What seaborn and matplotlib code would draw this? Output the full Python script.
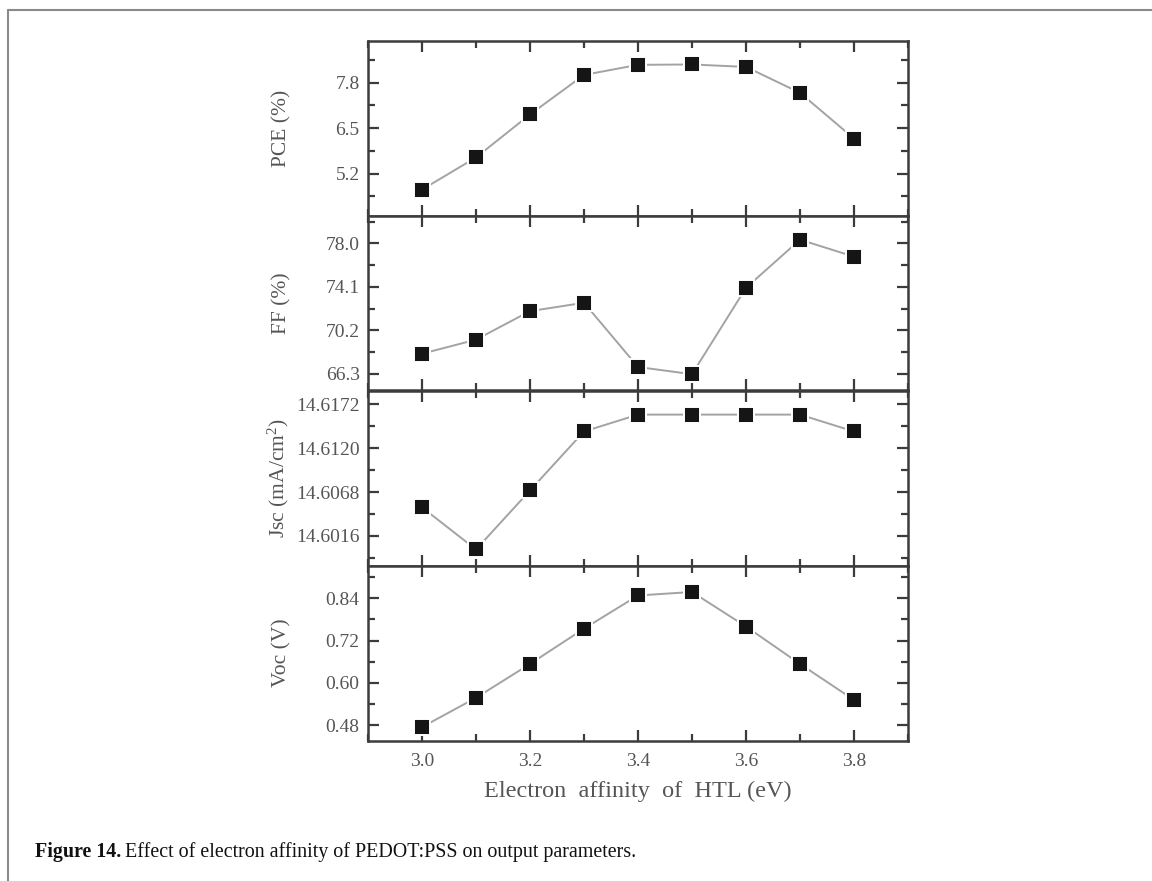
import numpy as np
import pandas as pd
import matplotlib
matplotlib.use("Agg")
import matplotlib.pyplot as plt
from matplotlib.lines import Line2D
from matplotlib.ticker import AutoMinorLocator
import seaborn as sns

# electron affinity of the HTL (eV)
ea = [3.0, 3.1, 3.2, 3.3, 3.4, 3.5, 3.6, 3.7, 3.8]

pce = [4.74, 5.66, 6.89, 8.02, 8.31, 8.32, 8.25, 7.51, 6.20]
ff = [68.1, 69.36, 71.92, 72.67, 66.91, 66.26, 74.01, 78.33, 76.81]
jsc = [14.6050, 14.6000, 14.6070, 14.6140, 14.6160, 14.6160, 14.6160, 14.6160, 14.6140]
voc = [0.475, 0.558, 0.654, 0.754, 0.848, 0.858, 0.760, 0.654, 0.552]

pce_ticks = [5.2, 6.5, 7.8]
ff_ticks = [66.3, 70.2, 74.1, 78.0]
jsc_ticks = [14.6016, 14.6068, 14.6120, 14.6172]
voc_ticks = [0.48, 0.60, 0.72, 0.84]
x_ticks = [3.0, 3.2, 3.4, 3.6, 3.8]

sns.set_theme(style="ticks")
plt.rcParams['font.family'] = ['Liberation Serif', 'DejaVu Serif']
plt.rcParams['mathtext.fontset'] = 'custom'
plt.rcParams['mathtext.rm'] = 'Liberation Serif'
plt.rcParams['mathtext.it'] = 'Liberation Serif:italic'

W, H = 1152, 881
fig = plt.figure(figsize=(W / 100, H / 100), dpi=100)
fig.patch.set_facecolor("white")

spine_col = "#3c3c3c"
text_col = "#555555"

left, right = 368, 908
edges = [40.7, 215.5, 390.5, 565.5, 740.5]

panels = [
    ("PCE (%)", pce, pce_ticks, (4.0, 9.0), "{:.1f}"),
    ("FF (%)", ff, ff_ticks, (64.8, 80.5), "{:.1f}"),
    ("Jsc (mA/cm$^2$)", jsc, jsc_ticks, (14.5981, 14.61886), "{:.4f}"),
    ("Voc (V)", voc, voc_ticks, (0.437, 0.933), "{:.2f}"),
]

axes = []
for i, (label, vals, ticks, ylim, fmt) in enumerate(panels):
    top, bot = edges[i], edges[i + 1]
    rect = [left / W, 1 - bot / H, (right - left) / W, (bot - top) / H]
    ax = fig.add_axes(rect, sharex=axes[0] if axes else None)
    axes.append(ax)
    df = pd.DataFrame({"ea": ea, "val": vals})
    sns.lineplot(data=df, x="ea", y="val", ax=ax, color="#a3a3a3", linewidth=1.4,
                 marker="s", markersize=11.5, markerfacecolor="#151515",
                 markeredgecolor="white", markeredgewidth=1.4)
    ax.set_xlim(2.9, 3.9)
    ax.set_ylim(*ylim)
    ax.set_yticks(ticks)
    ax.set_yticklabels([fmt.format(t) for t in ticks])
    ax.yaxis.set_minor_locator(AutoMinorLocator(2))
    ax.set_xticks(x_ticks)
    ax.xaxis.set_minor_locator(AutoMinorLocator(2))
    ax.tick_params(which="both", direction="in", top=True, right=True,
                   color=spine_col, width=1.6, labelcolor=text_col, labelsize=14)
    ax.tick_params(which="major", length=8)
    ax.tick_params(which="minor", length=5)
    ax.tick_params(axis="y", pad=6)
    ax.tick_params(axis="x", pad=9)
    for sp in ax.spines.values():
        sp.set_color(spine_col)
        sp.set_linewidth(1.8)
    ax.set_ylabel(label, fontsize=15.5, color=text_col)
    ax.yaxis.set_label_coords(-0.142, 0.5)
    ax.set_xlabel("")
    if i < 3:
        ax.tick_params(axis="x", labelbottom=False)

axes[-1].set_xlabel("Electron  affinity  of  HTL (eV)", fontsize=17.5, color=text_col,
                    labelpad=8)

# page frame lines
fig.add_artist(Line2D([8 / W, 1.0], [1 - 10 / H, 1 - 10 / H], color="#8a8a8a", lw=1.5))
fig.add_artist(Line2D([8 / W, 8 / W], [0.0, 1 - 10 / H], color="#8a8a8a", lw=1.5))

# caption
cap_y = 1 - 852 / H
t1 = fig.text(35 / W, cap_y, "Figure 14.", fontsize=14.4, fontweight="bold",
              color="#111111", va="center", ha="left")
fig.canvas.draw()
bb = t1.get_window_extent(renderer=fig.canvas.get_renderer())
fig.text(bb.x1 / W + 4 / W, cap_y,
         "Effect of electron affinity of PEDOT:PSS on output parameters.",
         fontsize=14.4, color="#111111", va="center", ha="left")

fig.savefig("out.png", dpi=100)
